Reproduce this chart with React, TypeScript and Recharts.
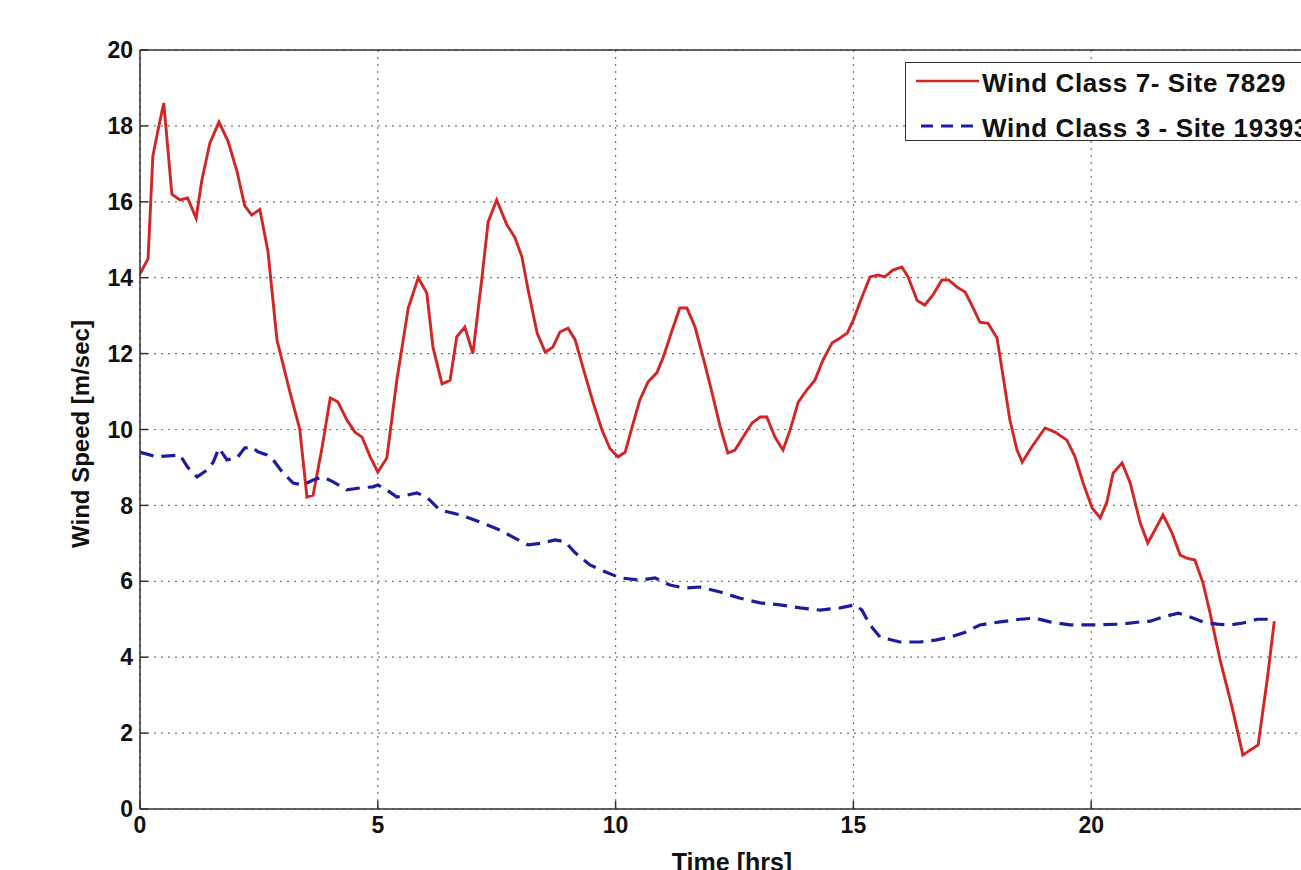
import React from 'react';
import { LineChart, Line, XAxis, YAxis, CartesianGrid, ReferenceLine } from 'recharts';

const redTimes = [
  0, 0.17, 0.27, 0.38, 0.5, 0.67, 0.84, 1.0, 1.18, 1.3, 1.47, 1.66, 1.85, 2.04, 2.2, 2.35, 2.52, 2.69, 2.88, 3.15,
  3.36, 3.51, 3.64, 3.83, 4.0, 4.16, 4.35, 4.52, 4.67, 4.84, 5.0, 5.19, 5.4, 5.64, 5.85, 6.03, 6.16, 6.35, 6.52, 6.66,
  6.83, 7.0, 7.19, 7.32, 7.5, 7.71, 7.88, 8.03, 8.16, 8.35, 8.52, 8.68, 8.83, 9.0, 9.15, 9.31, 9.53, 9.71, 9.88, 10.05,
  10.2, 10.37, 10.51, 10.68, 10.87, 11.0, 11.19, 11.35, 11.5, 11.67, 11.84, 12.03, 12.2, 12.36, 12.51, 12.68, 12.87,
  13.04, 13.18, 13.35, 13.52, 13.67, 13.84, 14.02, 14.19, 14.36, 14.55, 14.72, 14.87, 15.0, 15.18, 15.35, 15.52, 15.66,
  15.83, 16.02, 16.15, 16.34, 16.5, 16.67, 16.86, 17.0, 17.18, 17.35, 17.52, 17.66, 17.83, 18.02, 18.15, 18.29, 18.44,
  18.55, 18.75, 19.03, 19.24, 19.49, 19.66, 19.83, 20.02, 20.19, 20.33, 20.46, 20.65, 20.82, 21.03, 21.19, 21.34, 21.51,
  21.7, 21.87, 22.01, 22.18, 22.35, 22.5, 22.71, 22.96, 23.19, 23.34, 23.51, 23.7, 23.85,
];
const redValues = [
  14.1, 14.5, 17.2, 17.9, 18.6, 16.2, 16.05, 16.1, 15.57, 16.57, 17.55, 18.1, 17.6, 16.8, 15.9, 15.65, 15.8, 14.7, 12.36, 11.0,
  10.0, 8.22, 8.27, 9.54, 10.83, 10.73, 10.25, 9.93, 9.8, 9.28, 8.88, 9.25, 11.3, 13.2, 14.0, 13.6, 12.17, 11.2, 11.3, 12.44,
  12.7, 12.0, 14.0, 15.47, 16.05, 15.4, 15.07, 14.55, 13.68, 12.54, 12.04, 12.17, 12.57, 12.67, 12.36, 11.65, 10.7, 10.0, 9.5, 9.28,
  9.4, 10.17, 10.78, 11.25, 11.5, 11.9, 12.62, 13.2, 13.2, 12.7, 11.9, 10.96, 10.07, 9.38, 9.46, 9.8, 10.17,
  10.33, 10.33, 9.8, 9.46, 9.99, 10.72, 11.04, 11.3, 11.83, 12.28, 12.41, 12.54, 12.89, 13.49, 14.02, 14.07, 14.02,
  14.2, 14.28, 14.02, 13.4, 13.28, 13.54, 13.94, 13.94, 13.75, 13.62, 13.2, 12.83, 12.8, 12.41, 11.38, 10.25, 9.46,
  9.14, 9.54, 10.04, 9.93, 9.72, 9.28, 8.59, 7.93, 7.67, 8.09, 8.85, 9.12, 8.59, 7.54, 7.01, 7.35, 7.75,
  7.27, 6.69, 6.61, 6.56, 5.96, 5.16, 3.93, 2.69, 1.42, 1.55, 1.69, 3.4, 4.95,
];

const blueTimes = [
  0, 0.15, 0.35, 0.84, 1.0, 1.2, 1.41, 1.54, 1.66, 1.83, 2.04, 2.2, 2.35, 2.48, 2.67, 2.8, 2.99, 3.22, 3.43, 3.64,
  3.85, 4.06, 4.35, 4.63, 4.9, 5.0, 5.19, 5.4, 5.61, 5.82, 6.03, 6.3, 6.73, 7.15, 7.57, 7.88, 8.16, 8.41, 8.73, 8.94,
  9.15, 9.46, 9.78, 10.1, 10.51, 10.83, 11.14, 11.46, 11.77, 12.2, 12.6, 13.04, 13.46, 13.88, 14.3, 14.72, 15.03, 15.18,
  15.35, 15.56, 15.98, 16.4, 16.72, 17.03, 17.35, 17.66, 18.08, 18.5, 18.82, 19.13, 19.55, 20.04, 20.6, 21.03, 21.24,
  21.51, 21.83, 22.08, 22.35, 22.65, 22.92, 23.19, 23.49, 23.82,
];
const blueValues = [
  9.4, 9.35, 9.28, 9.33, 9.01, 8.75, 8.93, 9.14, 9.51, 9.2, 9.25, 9.51, 9.54, 9.41, 9.33, 9.2, 8.88, 8.59, 8.54, 8.67,
  8.75, 8.62, 8.41, 8.46, 8.49, 8.54, 8.41, 8.22, 8.27, 8.33, 8.22, 7.88, 7.75, 7.56, 7.35, 7.14, 6.96, 7.0, 7.09, 7.04,
  6.75, 6.43, 6.25, 6.09, 6.03, 6.09, 5.9, 5.82, 5.85, 5.72, 5.56, 5.43, 5.38, 5.3, 5.24, 5.3, 5.38, 5.24,
  4.85, 4.53, 4.4, 4.4, 4.45, 4.53, 4.66, 4.85, 4.93, 5.0, 5.03, 4.93, 4.85, 4.85, 4.87, 4.93, 4.95,
  5.06, 5.16, 5.06, 4.93, 4.87, 4.85, 4.9, 5.0, 5.0,
];

const xTicks = [0, 5, 10, 15, 20];
const xGrid = [0, 5, 10, 15, 20, 25];
const yTicks = [0, 2, 4, 6, 8, 10, 12, 14, 16, 18, 20];
const seriesNames = ['Wind Class 7- Site 7829', 'Wind Class 3 - Site 19393'];
const xLabel = 'Time [hrs]';
const yLabel = 'Wind Speed [m/sec]';

const redData = redTimes.map((t, i) => ({ t, v: redValues[i] }));
const blueData = blueTimes.map((t, i) => ({ t, v: blueValues[i] }));

const FONT = '"Liberation Sans", Arial, Helvetica, sans-serif';
const RED = '#d42525';
const BLUE = '#1c1ca0';
const AXIS = '#303030';

const tickStyle = { fontFamily: FONT, fontWeight: 700, fontSize: 23, fill: '#111' };

export default function App() {
  return (
    <div style={{ position: 'fixed', left: 0, top: 0, width: 1301, height: 870, overflow: 'hidden', background: '#fff' }}>
      <LineChart
        width={1360}
        height={880}
        margin={{ top: 50, right: 31, bottom: 31, left: 80 }}
        style={{ position: 'absolute', left: 0, top: 0 }}
      >
        <CartesianGrid
          stroke="#777"
          strokeDasharray="2 5"
          strokeWidth={1.2}
          horizontalValues={yTicks}
          verticalValues={xGrid}
        />
        <XAxis
          dataKey="t"
          type="number"
          domain={[0, 25]}
          ticks={xTicks}
          allowDataOverflow
          height={40}
          tickSize={-8}
          tickMargin={16}
          tick={tickStyle}
          axisLine={{ stroke: AXIS, strokeWidth: 1.5 }}
          tickLine={{ stroke: AXIS, strokeWidth: 1.5 }}
        />
        <YAxis
          type="number"
          domain={[0, 20]}
          ticks={yTicks}
          width={60}
          tickSize={-8}
          tickMargin={15}
          tick={tickStyle}
          axisLine={{ stroke: AXIS, strokeWidth: 1.5 }}
          tickLine={{ stroke: AXIS, strokeWidth: 1.5 }}
        />
        <ReferenceLine y={20} stroke={AXIS} strokeWidth={1.5} />
        <ReferenceLine x={25} stroke={AXIS} strokeWidth={1.5} />
        <Line
          data={redData}
          dataKey="v"
          name={seriesNames[0]}
          type="linear"
          stroke={RED}
          strokeWidth={2.9}
          dot={false}
          isAnimationActive={false}
        />
        <Line
          data={blueData}
          dataKey="v"
          name={seriesNames[1]}
          type="linear"
          stroke={BLUE}
          strokeWidth={3.2}
          strokeDasharray="14 8"
          dot={false}
          isAnimationActive={false}
        />
      </LineChart>

      <div
        style={{
          position: 'absolute',
          left: 81,
          top: 434,
          transform: 'translate(-50%, -50%) rotate(-90deg)',
          whiteSpace: 'nowrap',
          fontFamily: FONT,
          fontWeight: 700,
          fontSize: 24,
          lineHeight: '24px',
          color: '#111',
        }}
      >
        {yLabel}
      </div>
      <div
        style={{
          position: 'absolute',
          left: 732,
          top: 850,
          transform: 'translateX(-50%)',
          whiteSpace: 'nowrap',
          fontFamily: FONT,
          fontWeight: 700,
          fontSize: 25,
          lineHeight: '25px',
          color: '#111',
        }}
      >
        {xLabel}
      </div>

      <div
        style={{
          position: 'absolute',
          left: 905,
          top: 62,
          width: 440,
          height: 79,
          boxSizing: 'border-box',
          border: `1.5px solid ${AXIS}`,
          background: '#fff',
          fontFamily: FONT,
          fontWeight: 700,
          fontSize: 26,
          letterSpacing: 0.6,
          color: '#111',
        }}
      >
        <svg width={70} height={79} style={{ position: 'absolute', left: 8, top: -1.5 }}>
          <line x1={2} y1={19} x2={65} y2={19} stroke={RED} strokeWidth={2.6} />
          <line x1={7} y1={64} x2={65} y2={64} stroke={BLUE} strokeWidth={3} strokeDasharray="12 8" />
        </svg>
        <div style={{ position: 'absolute', left: 76, top: 7, lineHeight: '26px', whiteSpace: 'nowrap' }}>{seriesNames[0]}</div>
        <div style={{ position: 'absolute', left: 76, top: 52, lineHeight: '26px', whiteSpace: 'nowrap' }}>{seriesNames[1]}</div>
      </div>
    </div>
  );
}
